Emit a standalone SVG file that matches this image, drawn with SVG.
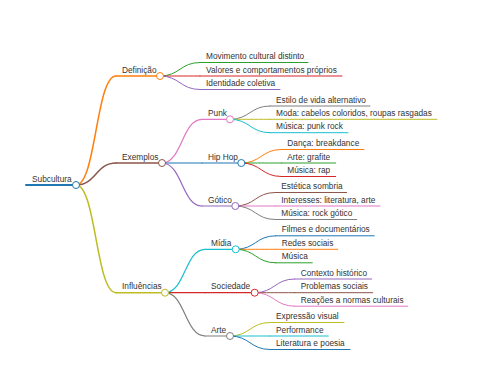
<svg xmlns="http://www.w3.org/2000/svg" width="480" height="384" viewBox="0 0 480 384">
<style>
text{font-family:"Liberation Sans",Arial,sans-serif;font-size:8.3px;fill:#333}
path,line{fill:none;stroke-linecap:round}
circle{fill:#fff}
.d0{stroke-width:2}
.d1{stroke-width:1.5}
.d2{stroke-width:1.2}
.d3{stroke-width:1}
.c0{stroke:#1f77b4}.c1{stroke:#ff7f0e}.c2{stroke:#2ca02c}.c3{stroke:#d62728}.c4{stroke:#9467bd}
.c5{stroke:#8c564b}.c6{stroke:#e377c2}.c7{stroke:#7f7f7f}.c8{stroke:#bcbd22}.c9{stroke:#17becf}
</style>
<rect width="480" height="384" fill="#fff"/>
<g id="connectors">
<path class="d1 c1" d="M76,185 C96,185 96,76 116,76"/>
<path class="d1 c5" d="M76,185 C96,185 96,163 116,163"/>
<path class="d1 c8" d="M76,185 C96,185 96,292.7 116,292.7"/>
<path class="d3 c2" d="M160,76 C180,76 180,62.5 200,62.5"/>
<path class="d3 c3" d="M160,76 C180,76 180,76 200,76"/>
<path class="d3 c4" d="M160,76 C180,76 180,89.5 200,89.5"/>
<path class="d2 c6" d="M162,163 C182,163 182,119.3 202,119.3"/>
<path class="d2 c0" d="M162,163 C182,163 182,163 202,163"/>
<path class="d2 c4" d="M162,163 C182,163 182,206 202,206"/>
<path class="d3 c7" d="M230,119.3 C250,119.3 250,106 270,106"/>
<path class="d3 c8" d="M230,119.3 C250,119.3 250,119.3 270,119.3"/>
<path class="d3 c9" d="M230,119.3 C250,119.3 250,132.7 270,132.7"/>
<path class="d3 c1" d="M241.3,163 C261.3,163 261.3,149.5 281.3,149.5"/>
<path class="d3 c2" d="M241.3,163 C261.3,163 261.3,163 281.3,163"/>
<path class="d3 c3" d="M241.3,163 C261.3,163 261.3,176.5 281.3,176.5"/>
<path class="d3 c5" d="M235.3,206 C255.3,206 255.3,192.5 275.3,192.5"/>
<path class="d3 c6" d="M235.3,206 C255.3,206 255.3,206 275.3,206"/>
<path class="d3 c7" d="M235.3,206 C255.3,206 255.3,219.5 275.3,219.5"/>
<path class="d2 c9" d="M165,292.7 C185,292.7 185,249.3 205,249.3"/>
<path class="d2 c3" d="M165,292.7 C185,292.7 185,292.7 205,292.7"/>
<path class="d2 c7" d="M165,292.7 C185,292.7 185,336 205,336"/>
<path class="d3 c0" d="M235.7,249.3 C255.7,249.3 255.7,235.8 275.7,235.8"/>
<path class="d3 c1" d="M235.7,249.3 C255.7,249.3 255.7,249.3 275.7,249.3"/>
<path class="d3 c2" d="M235.7,249.3 C255.7,249.3 255.7,262.8 275.7,262.8"/>
<path class="d3 c4" d="M254.7,292.7 C274.7,292.7 274.7,279 294.7,279"/>
<path class="d3 c5" d="M254.7,292.7 C274.7,292.7 274.7,292.7 294.7,292.7"/>
<path class="d3 c6" d="M254.7,292.7 C274.7,292.7 274.7,306.2 294.7,306.2"/>
<path class="d3 c8" d="M230,336 C250,336 250,322.5 270,322.5"/>
<path class="d3 c9" d="M230,336 C250,336 250,336 270,336"/>
<path class="d3 c0" d="M230,336 C250,336 250,349.5 270,349.5"/>
</g>
<g id="subcultura"><line class="d0 c0" x1="26" y1="185" x2="76" y2="185"/><text x="32" y="181.5">Subcultura</text><circle class="d3 c0" cx="76" cy="185" r="3.5"/></g>
<g id="definicao"><line class="d1 c1" x1="116" y1="76" x2="160" y2="76"/><text x="122" y="72.5">Definição</text><circle class="d3 c1" cx="160" cy="76" r="3.5"/></g>
<g id="movimento"><line class="d3 c2" x1="200" y1="62.5" x2="308" y2="62.5"/><text x="206" y="59">Movimento cultural distinto</text></g>
<g id="valores"><line class="d3 c3" x1="200" y1="76" x2="342" y2="76"/><text x="206" y="72.5">Valores e comportamentos próprios</text></g>
<g id="identidade"><line class="d3 c4" x1="200" y1="89.5" x2="280" y2="89.5"/><text x="206" y="86">Identidade coletiva</text></g>
<g id="exemplos"><line class="d1 c5" x1="116" y1="163" x2="162" y2="163"/><text x="122" y="159.5">Exemplos</text><circle class="d3 c5" cx="162" cy="163" r="3.5"/></g>
<g id="punk"><line class="d2 c6" x1="202" y1="119.3" x2="230" y2="119.3"/><text x="208" y="115.8">Punk</text><circle class="d3 c6" cx="230" cy="119.3" r="3.5"/></g>
<g id="estilo"><line class="d3 c7" x1="270" y1="106" x2="370" y2="106"/><text x="276" y="102.5">Estilo de vida alternativo</text></g>
<g id="moda"><line class="d3 c8" x1="270" y1="119.3" x2="437" y2="119.3"/><text x="276" y="115.8">Moda: cabelos coloridos, roupas rasgadas</text></g>
<g id="punkrock"><line class="d3 c9" x1="270" y1="132.7" x2="348" y2="132.7"/><text x="276" y="129.2">Música: punk rock</text></g>
<g id="hiphop"><line class="d2 c0" x1="202" y1="163" x2="241.3" y2="163"/><text x="208" y="159.5">Hip Hop</text><circle class="d3 c0" cx="241.3" cy="163" r="3.5"/></g>
<g id="danca"><line class="d3 c1" x1="281.3" y1="149.5" x2="364" y2="149.5"/><text x="287.3" y="146">Dança: breakdance</text></g>
<g id="grafite"><line class="d3 c2" x1="281.3" y1="163" x2="335.7" y2="163"/><text x="287.3" y="159.5">Arte: grafite</text></g>
<g id="rap"><line class="d3 c3" x1="281.3" y1="176.5" x2="335.7" y2="176.5"/><text x="287.3" y="173">Música: rap</text></g>
<g id="gotico"><line class="d2 c4" x1="202" y1="206" x2="235.3" y2="206"/><text x="208" y="202.5">Gótico</text><circle class="d3 c4" cx="235.3" cy="206" r="3.5"/></g>
<g id="estetica"><line class="d3 c5" x1="275.3" y1="192.5" x2="346.7" y2="192.5"/><text x="281.3" y="189">Estética sombria</text></g>
<g id="interesses"><line class="d3 c6" x1="275.3" y1="206" x2="380" y2="206"/><text x="281.3" y="202.5">Interesses: literatura, arte</text></g>
<g id="rockgotico"><line class="d3 c7" x1="275.3" y1="219.5" x2="356.7" y2="219.5"/><text x="281.3" y="216">Música: rock gótico</text></g>
<g id="influencias"><line class="d1 c8" x1="116" y1="292.7" x2="165" y2="292.7"/><text x="122" y="289.2">Influências</text><circle class="d3 c8" cx="165" cy="292.7" r="3.5"/></g>
<g id="midia"><line class="d2 c9" x1="205" y1="249.3" x2="235.7" y2="249.3"/><text x="211" y="245.8">Mídia</text><circle class="d3 c9" cx="235.7" cy="249.3" r="3.5"/></g>
<g id="filmes"><line class="d3 c0" x1="275.7" y1="235.8" x2="374.3" y2="235.8"/><text x="281.7" y="232.3">Filmes e documentários</text></g>
<g id="redes"><line class="d3 c1" x1="275.7" y1="249.3" x2="337.7" y2="249.3"/><text x="281.7" y="245.8">Redes sociais</text></g>
<g id="musica"><line class="d3 c2" x1="275.7" y1="262.8" x2="312.3" y2="262.8"/><text x="281.7" y="259.3">Música</text></g>
<g id="sociedade"><line class="d2 c3" x1="205" y1="292.7" x2="254.7" y2="292.7"/><text x="211" y="289.2">Sociedade</text><circle class="d3 c3" cx="254.7" cy="292.7" r="3.5"/></g>
<g id="contexto"><line class="d3 c4" x1="294.7" y1="279" x2="371.7" y2="279"/><text x="300.7" y="275.5">Contexto histórico</text></g>
<g id="problemas"><line class="d3 c5" x1="294.7" y1="292.7" x2="372.7" y2="292.7"/><text x="300.7" y="289.2">Problemas sociais</text></g>
<g id="reacoes"><line class="d3 c6" x1="294.7" y1="306.2" x2="407.7" y2="306.2"/><text x="300.7" y="302.7">Reações a normas culturais</text></g>
<g id="arte"><line class="d2 c7" x1="205" y1="336" x2="230" y2="336"/><text x="211" y="332.5">Arte</text><circle class="d3 c7" cx="230" cy="336" r="3.5"/></g>
<g id="expressao"><line class="d3 c8" x1="270" y1="322.5" x2="344" y2="322.5"/><text x="276" y="319">Expressão visual</text></g>
<g id="performance"><line class="d3 c9" x1="270" y1="336" x2="328.3" y2="336"/><text x="276" y="332.5">Performance</text></g>
<g id="literatura"><line class="d3 c0" x1="270" y1="349.5" x2="350" y2="349.5"/><text x="276" y="346">Literatura e poesia</text></g>
</svg>
